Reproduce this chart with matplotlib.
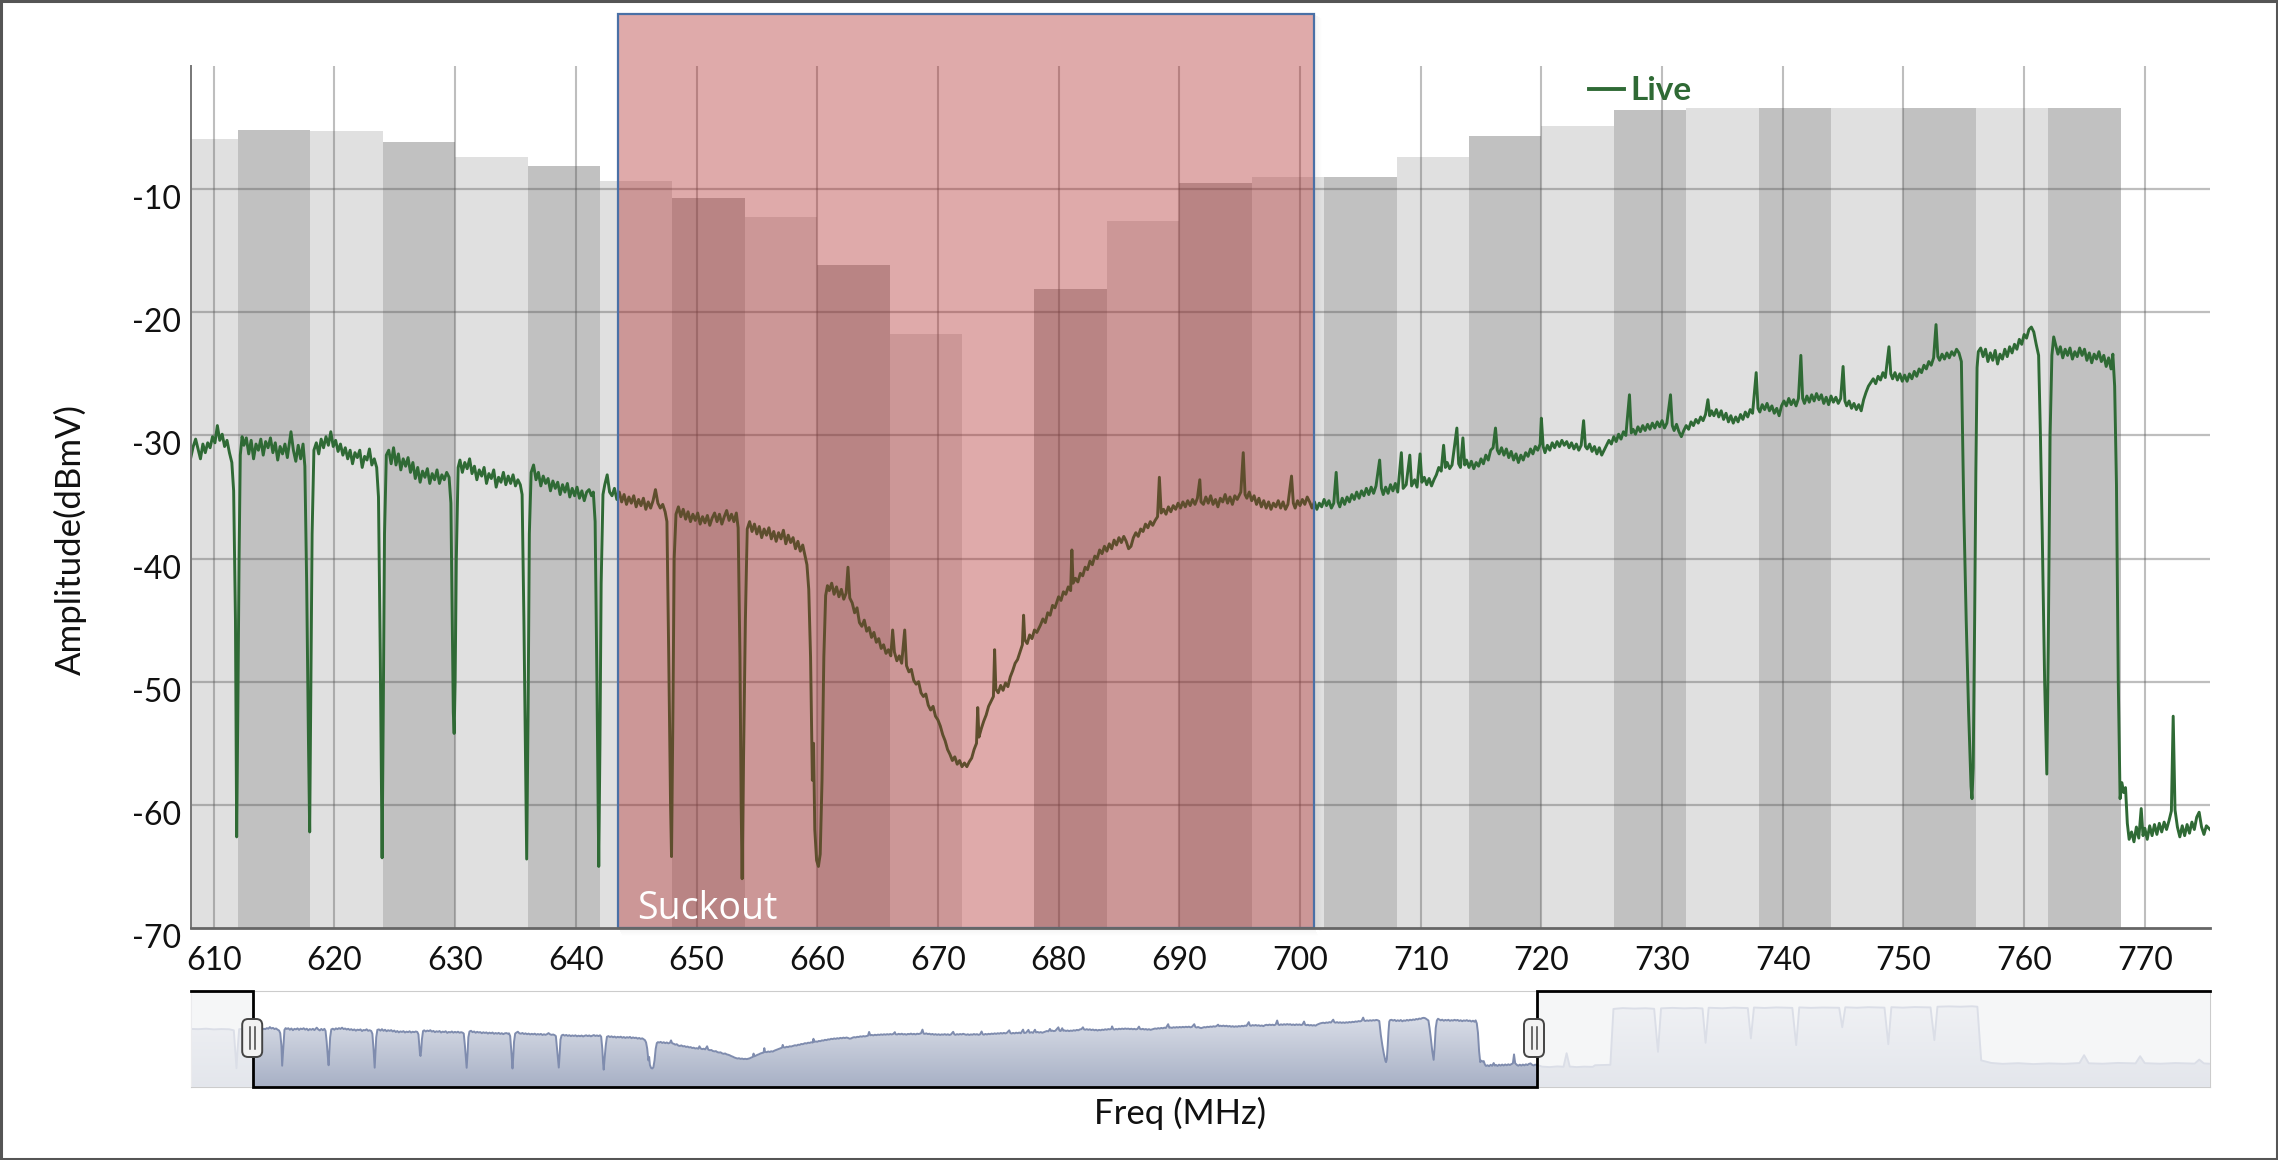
import numpy as np
import matplotlib
matplotlib.use("Agg")
import matplotlib.pyplot as plt
from matplotlib.patches import Rectangle, FancyBboxPatch
from matplotlib.lines import Line2D
from matplotlib.colors import LinearSegmentedColormap
import matplotlib.transforms as mtransforms

# ---------------- data ----------------
channel_starts = [606, 612, 618, 624, 630, 636, 642, 648, 654, 660, 666, 672, 678,
                  684, 690, 696, 702, 708, 714, 720, 726, 732, 738, 744, 750, 756, 762]
channel_levels = [-5.9, -5.2, -5.3, -6.2, -7.4, -8.1, -9.3, -10.7, -12.3, -16.2, -21.8, None, -18.1,
                  -12.6, -9.5, -9.0, -9.0, -7.4, -5.7, -4.9, -3.6, -3.4, -3.4, -3.4, -3.4, -3.4, -3.4]
channel_width = 6

x_ticks = [610, 620, 630, 640, 650, 660, 670, 680, 690, 700, 710, 720, 730, 740, 750, 760, 770]
y_ticks = [-70, -60, -50, -40, -30, -20, -10]

suckout_range = (643.5, 701.2)
suckout_label = "Suckout"
series_name = "Live"

trace_points = [
    (608.1,-31.8),(608.3,-30.9),(608.5,-30.3),(608.7,-31.1),(608.9,-31.9),(609.1,-30.7),(609.3,-31.4),(609.5,-30.6),
    (609.7,-31.0),(609.9,-30.1),(610.1,-30.6),(610.3,-29.2),(610.5,-30.4),(610.7,-29.9),(610.9,-30.9),(611.1,-30.4),
    (611.3,-31.4),(611.5,-32.2),(611.65,-34.5),(611.8,-45.0),(611.9,-62.6),(612.0,-52.0),(612.1,-40.0),(612.2,-31.6),
    (612.35,-30.1),
    (612.5,-30.8),(612.7,-30.2),(612.9,-31.5),(613.1,-30.4),(613.3,-31.9),(613.5,-30.7),(613.7,-31.2),(613.9,-30.3),
    (614.1,-31.6),(614.3,-30.5),(614.5,-31.0),(614.7,-30.2),(614.9,-31.4),(615.1,-30.6),(615.3,-32.0),(615.5,-30.9),
    (615.7,-31.5),(615.9,-30.7),(616.1,-31.8),(616.4,-29.7),(616.6,-31.2),(616.8,-32.1),(617.0,-30.8),(617.2,-31.9),
    (617.4,-30.7),(617.55,-32.5),(617.7,-42.0),(617.85,-55.0),(617.95,-62.2),(618.05,-50.0),(618.15,-38.0),(618.3,-31.2),
    (618.5,-30.6),(618.7,-31.5),(618.9,-30.3),(619.1,-31.0),(619.3,-30.1),(619.5,-30.8),(619.7,-29.7),(619.9,-30.9),
    (620.1,-30.4),(620.3,-31.3),(620.5,-30.7),(620.7,-31.6),(620.9,-31.0),(621.1,-31.9),(621.3,-31.2),(621.5,-32.3),
    (621.7,-31.4),(621.9,-31.8),(622.1,-31.2),(622.3,-32.6),(622.5,-31.7),(622.7,-32.0),(622.9,-31.1),(623.1,-32.4),
    (623.3,-31.9),(623.5,-32.6),(623.65,-35.0),(623.8,-48.0),(623.95,-64.3),(624.05,-52.0),(624.15,-38.0),(624.3,-31.6),
    (624.5,-31.2),(624.7,-32.3),(624.9,-31.0),(625.1,-32.4),(625.3,-31.5),(625.5,-32.8),(625.7,-31.9),(625.9,-32.5),
    (626.1,-31.8),(626.3,-33.0),(626.5,-32.2),(626.7,-33.5),(626.9,-32.6),(627.1,-33.8),(627.3,-32.9),(627.5,-33.4),
    (627.7,-32.7),(627.9,-33.9),(628.1,-33.1),(628.3,-33.6),(628.5,-32.8),(628.7,-33.9),(628.9,-33.2),(629.1,-33.6),
    (629.3,-33.0),(629.5,-33.4),(629.65,-35.5),(629.75,-44.0),(629.85,-52.5),(629.92,-54.2),(630.0,-50.0),(630.1,-40.0),
    (630.25,-32.6),
    (630.4,-32.0),(630.6,-33.0),(630.8,-32.2),(631.0,-32.7),(631.2,-31.9),(631.4,-33.1),(631.6,-32.5),(631.8,-33.6),
    (632.0,-32.8),(632.2,-33.3),(632.4,-32.6),(632.6,-33.9),(632.8,-33.1),(633.0,-33.5),(633.2,-32.8),(633.4,-34.2),
    (633.6,-33.4),(633.8,-33.8),(634.0,-33.0),(634.2,-34.0),(634.4,-33.3),(634.6,-33.9),(634.8,-33.2),(635.0,-34.1),
    (635.2,-33.6),(635.4,-34.0),(635.55,-34.8),(635.7,-45.0),(635.85,-58.0),(635.93,-64.4),(636.05,-52.0),(636.15,-38.0),
    (636.3,-33.0),
    (636.5,-32.4),(636.7,-33.6),(636.9,-33.0),(637.1,-34.1),(637.3,-33.3),(637.5,-33.9),(637.7,-33.5),(637.9,-34.5),
    (638.1,-33.7),(638.3,-34.3),(638.5,-33.8),(638.7,-34.8),(638.9,-34.0),(639.1,-34.6),(639.3,-33.9),(639.5,-35.0),
    (639.7,-34.3),(639.9,-34.9),(640.1,-34.2),(640.3,-35.1),(640.5,-34.5),(640.7,-35.3),(640.9,-34.6),(641.1,-34.4),
    (641.3,-34.9),(641.45,-34.6),(641.6,-37.0),(641.75,-50.0),(641.9,-65.0),(642.0,-55.0),(642.1,-42.0),(642.25,-34.8),
    (642.4,-34.0),(642.6,-33.2),(642.8,-34.6),(643.0,-34.9),(643.2,-34.3),(643.4,-35.2),(643.6,-34.6),(643.8,-35.4),
    (644.0,-34.8),(644.2,-35.6),(644.4,-35.0),(644.6,-35.5),(644.8,-34.9),(645.0,-35.8),(645.2,-35.2),(645.4,-35.7),
    (645.6,-35.1),(645.8,-36.0),(646.0,-35.4),(646.2,-35.9),(646.4,-35.3),(646.6,-34.4),(646.8,-35.5),(647.0,-35.9),
    (647.2,-35.6),(647.4,-36.2),(647.55,-37.0),(647.7,-48.0),(647.85,-60.0),(647.93,-64.2),(648.05,-52.0),(648.15,-40.0),
    (648.3,-36.4),
    (648.5,-35.8),(648.7,-36.6),(648.9,-36.0),(649.1,-36.8),(649.3,-36.2),(649.5,-37.0),(649.7,-36.4),(649.9,-36.9),
    (650.1,-36.3),(650.3,-37.2),(650.5,-36.6),(650.7,-37.1),(650.9,-36.5),(651.1,-37.3),(651.3,-36.7),(651.5,-36.3),
    (651.7,-37.0),(651.9,-36.4),(652.1,-37.2),(652.3,-36.6),(652.5,-36.1),(652.7,-36.9),(652.9,-36.4),(653.1,-37.0),
    (653.3,-36.3),(653.45,-37.5),(653.6,-48.0),(653.7,-60.0),(653.78,-66.0),(653.9,-56.0),(654.05,-45.0),(654.2,-37.6),
    (654.4,-37.0),(654.6,-37.8),(654.8,-37.2),(655.0,-38.0),(655.2,-37.4),(655.4,-38.3),(655.6,-37.6),(655.8,-38.1),
    (656.0,-37.5),(656.2,-38.4),(656.4,-37.8),(656.6,-38.6),(656.8,-37.9),(657.0,-38.4),(657.2,-37.7),(657.4,-38.8),
    (657.6,-38.1),(657.8,-38.7),(658.0,-38.3),(658.2,-39.2),(658.4,-38.6),(658.6,-39.4),(658.8,-38.9),(659.0,-39.8),
    (659.15,-40.5),(659.3,-42.5),(659.45,-48.0),(659.6,-58.0),(659.7,-55.0),(659.8,-62.0),(659.95,-64.5),(660.1,-65.0),
    (660.25,-64.0),(660.4,-58.0),(660.55,-48.0),(660.7,-43.0),(660.85,-42.2),
    (661.0,-42.6),(661.2,-42.0),(661.4,-42.9),(661.6,-42.3),(661.8,-43.1),(662.0,-42.5),(662.2,-43.3),(662.4,-42.8),
    (662.55,-40.7),(662.7,-43.2),(662.9,-43.6),(663.1,-44.4),(663.3,-44.0),(663.5,-45.2),(663.7,-45.5),(663.9,-45.0),
    (664.1,-45.9),(664.3,-45.6),(664.5,-46.4),(664.7,-46.0),(664.9,-46.8),(665.1,-46.5),(665.3,-47.3),(665.5,-47.0),
    (665.7,-47.7),(665.9,-47.4),(666.1,-47.9),(666.25,-45.8),(666.4,-47.6),(666.6,-48.3),(666.8,-47.9),(667.0,-48.5),
    (667.25,-45.8),(667.4,-48.7),(667.6,-49.2),(667.8,-49.0),(668.0,-49.9),(668.2,-50.2),(668.4,-50.0),(668.6,-50.9),
    (668.8,-51.2),(669.0,-51.0),(669.2,-51.9),(669.4,-52.3),(669.6,-52.0),(669.8,-52.8),(670.0,-53.1),(670.2,-53.6),
    (670.4,-54.3),(670.6,-54.8),(670.8,-55.5),(671.0,-55.9),(671.2,-56.4),(671.4,-56.1),(671.6,-56.7),(671.8,-56.4),
    (672.0,-56.9),(672.2,-56.6),(672.4,-56.9),(672.6,-56.5),(672.8,-56.2),(673.0,-55.5),(673.2,-55.0),(673.3,-52.1),
    (673.4,-54.5),(673.6,-53.8),(673.8,-53.2),(674.0,-52.7),(674.2,-52.0),(674.4,-51.6),(674.6,-51.2),(674.7,-47.4),
    (674.8,-50.6),(675.0,-50.9),(675.2,-50.3),(675.4,-50.7),(675.6,-50.1),(675.8,-50.4),(676.0,-49.6),(676.2,-49.1),
    (676.4,-48.5),(676.6,-48.2),(676.8,-47.6),(677.0,-47.0),(677.1,-44.6),(677.2,-46.6),(677.4,-46.9),(677.6,-46.2),
    (677.8,-46.5),(678.0,-45.8),(678.2,-46.0),(678.5,-45.4),(678.7,-44.9),(678.9,-45.2),(679.1,-44.4),(679.3,-44.6),
    (679.5,-43.8),(679.7,-44.0),(680.0,-43.1),(680.2,-43.4),(680.4,-42.7),(680.6,-42.9),(680.8,-42.3),(681.0,-42.6),
    (681.1,-39.3),(681.2,-42.0),(681.4,-41.6),(681.6,-41.9),(681.8,-41.2),(682.0,-41.4),(682.2,-40.7),(682.4,-40.9),
    (682.6,-40.2),(682.8,-40.5),(683.0,-39.8),(683.2,-40.0),(683.4,-39.3),(683.6,-39.6),(683.8,-39.0),(684.0,-39.4),
    (684.2,-38.8),(684.4,-39.2),(684.6,-38.5),(684.8,-38.9),(685.0,-38.3),(685.2,-38.7),(685.4,-38.2),(685.6,-38.6),
    (685.8,-39.2),(686.0,-39.0),(686.2,-38.3),(686.4,-37.9),(686.6,-38.2),(686.8,-37.6),(687.0,-37.8),(687.2,-37.2),
    (687.4,-37.5),(687.6,-37.0),(687.8,-37.3),(688.0,-36.9),(688.2,-36.6),(688.35,-33.4),(688.5,-36.3),(688.7,-36.0),
    (688.9,-36.4),(689.1,-35.8),(689.3,-36.2),(689.5,-35.7),(689.7,-36.0),(689.9,-35.5),(690.1,-35.9),(690.3,-35.4),
    (690.5,-35.8),(690.7,-35.3),(690.9,-35.7),(691.1,-35.2),(691.3,-35.6),(691.5,-35.1),(691.7,-33.6),(691.8,-35.4),
    (692.0,-35.6),(692.2,-35.0),(692.4,-35.5),(692.6,-34.9),(692.8,-35.6),(693.0,-35.2),(693.2,-35.8),(693.4,-35.1),
    (693.6,-35.4),(693.8,-34.8),(694.0,-35.5),(694.2,-35.0),(694.4,-35.6),(694.6,-34.9),(694.8,-35.2),(695.1,-34.6),
    (695.3,-31.4),(695.45,-34.8),(695.6,-35.1),(695.8,-34.6),(696.0,-35.3),(696.2,-34.9),(696.4,-35.6),(696.6,-35.1),
    (696.8,-35.8),(697.0,-35.3),(697.2,-35.9),(697.4,-35.4),(697.6,-36.0),(697.8,-35.5),(698.0,-35.8),(698.2,-35.3),
    (698.4,-35.9),(698.6,-35.4),(698.8,-36.0),(699.0,-35.6),(699.3,-33.3),(699.45,-35.5),(699.6,-35.9),(699.8,-35.3),
    (700.0,-35.7),(700.2,-35.2),(700.4,-35.6),(700.6,-35.0),(700.8,-35.4),(701.0,-35.9),(701.2,-35.4),(701.4,-36.0),
    (701.6,-35.5),(701.8,-35.8),(702.0,-35.2),(702.2,-35.7),(702.4,-35.3),(702.6,-35.9),(702.8,-35.5),(703.0,-33.0),
    (703.15,-35.4),(703.3,-35.8),(703.5,-35.1),(703.7,-35.6),(703.9,-35.0),(704.1,-35.4),(704.3,-34.8),(704.5,-35.2),
    (704.7,-34.6),(704.9,-35.1),(705.1,-34.5),(705.3,-34.9),(705.5,-34.3),(705.7,-34.8),(705.9,-34.2),(706.1,-34.7),
    (706.3,-34.1),(706.6,-32.0),(706.75,-34.3),(706.9,-34.8),(707.1,-34.2),(707.3,-34.7),(707.5,-34.0),(707.7,-34.5),
    (707.9,-33.9),(708.1,-34.6),(708.4,-31.4),(708.55,-34.3),(708.8,-34.0),(709.1,-31.6),(709.25,-34.1),(709.5,-33.6),
    (709.7,-34.2),(709.95,-31.5),(710.1,-33.8),(710.3,-33.4),(710.5,-34.0),(710.7,-33.5),(710.9,-34.1),(711.1,-33.6),
    (711.3,-33.2),(711.5,-32.6),(711.7,-32.9),(711.9,-30.8),(712.05,-32.6),(712.2,-32.2),(712.4,-32.7),(712.6,-32.4),
    (713.0,-29.4),(713.15,-32.3),(713.3,-32.6),(713.5,-30.2),(713.65,-32.4),(713.8,-32.0),
    (714.0,-32.6),(714.2,-32.1),(714.4,-32.7),(714.6,-32.2),(714.8,-32.5),(715.0,-31.9),(715.2,-32.3),(715.4,-31.6),
    (715.6,-32.0),(715.8,-31.2),(716.0,-31.0),(716.2,-29.4),(716.35,-31.2),(716.5,-31.5),(716.7,-31.0),(716.9,-31.6),
    (717.1,-31.1),(717.3,-31.8),(717.5,-31.3),(717.7,-32.0),(717.9,-31.5),(718.1,-32.2),(718.3,-31.6),(718.5,-32.0),
    (718.7,-31.4),(718.9,-31.7),(719.1,-31.1),(719.3,-31.5),(719.5,-30.9),(719.7,-31.2),(719.9,-30.7),(720.0,-28.6),
    (720.15,-30.9),(720.3,-31.4),(720.5,-30.8),(720.7,-31.2),(720.9,-30.6),(721.1,-31.0),(721.3,-30.5),(721.5,-30.9),
    (721.7,-30.4),(721.9,-30.8),(722.1,-30.5),(722.3,-31.0),(722.5,-30.6),(722.7,-31.1),(722.9,-30.7),(723.1,-31.2),
    (723.3,-30.8),(723.5,-28.8),(723.65,-30.9),(723.8,-31.1),(724.0,-30.7),(724.2,-31.3),(724.4,-30.9),(724.6,-31.5),
    (724.8,-31.0),(725.0,-31.6),(725.2,-31.2),(725.4,-30.8),(725.6,-30.4),(725.8,-30.7),(726.0,-30.1),(726.2,-30.5),
    (726.4,-29.9),(726.6,-30.3),(726.8,-29.7),(727.0,-30.0),(727.3,-26.7),(727.45,-29.8),(727.6,-29.5),(727.8,-29.9),
    (728.0,-29.3),(728.2,-29.7),(728.4,-29.2),(728.6,-29.6),(728.8,-29.1),(729.0,-29.5),(729.2,-29.0),(729.4,-29.4),
    (729.6,-28.9),(729.8,-29.3),(730.0,-28.8),(730.2,-29.4),(730.4,-29.0),(730.7,-26.7),(730.85,-29.2),(731.0,-29.6),
    (731.2,-29.1),(731.4,-29.7),(731.6,-30.1),(731.8,-29.6),(732.0,-29.2),(732.2,-29.5),(732.4,-28.9),(732.6,-29.2),
    (732.8,-28.7),(733.0,-29.0),(733.2,-28.5),(733.4,-28.8),(733.6,-28.3),(733.8,-27.1),(733.95,-28.4),(734.1,-28.0),
    (734.3,-28.4),
    (734.5,-27.9),(734.7,-28.5),(734.9,-28.0),(735.1,-28.7),(735.3,-28.2),(735.5,-28.9),(735.7,-28.4),(735.9,-29.0),
    (736.1,-28.5),(736.3,-28.9),(736.5,-28.3),(736.7,-28.7),(736.9,-28.1),(737.1,-28.5),(737.3,-27.9),(737.5,-28.2),
    (737.8,-24.9),(737.95,-27.8),(738.1,-28.1),(738.3,-27.5),(738.5,-27.9),(738.7,-27.4),(738.9,-28.0),(739.1,-27.6),
    (739.3,-28.2),(739.5,-27.8),(739.7,-28.4),(739.9,-27.6),(740.1,-27.2),(740.3,-27.6),(740.5,-27.0),(740.7,-27.5),
    (740.9,-27.1),(741.1,-27.6),(741.3,-27.0),(741.5,-23.5),(741.65,-27.0),(741.8,-27.4),(742.0,-26.8),(742.2,-27.3),
    (742.4,-26.7),(742.6,-27.2),(742.8,-26.6),(743.0,-27.1),(743.2,-26.7),(743.4,-27.4),(743.6,-26.9),(743.8,-27.5),
    (744.0,-26.8),(744.2,-27.3),(744.4,-26.9),(744.6,-27.4),(744.8,-27.0),(745.0,-24.4),(745.15,-27.2),(745.3,-27.6),
    (745.5,-27.2),(745.7,-27.8),(745.9,-27.4),(746.1,-27.9),(746.3,-27.5),(746.5,-28.0),(746.7,-27.1),(746.9,-26.5),
    (747.1,-26.0),(747.3,-25.7),(747.5,-25.4),(747.7,-25.8),(747.9,-25.2),(748.1,-25.5),(748.3,-24.9),(748.5,-25.3),
    (748.8,-22.8),(748.95,-25.0),(749.1,-25.4),(749.3,-24.9),(749.5,-25.5),(749.7,-25.0),(749.9,-25.6),(750.1,-25.1),
    (750.3,-25.6),(750.5,-25.0),(750.7,-25.4),(750.9,-24.8),(751.1,-25.2),(751.3,-24.6),(751.5,-24.9),(751.7,-24.3),
    (751.9,-24.6),(752.1,-24.0),(752.3,-24.3),(752.5,-23.7),(752.7,-21.0),(752.85,-23.6),(753.0,-23.9),(753.2,-23.4),
    (753.4,-23.8),(753.6,-23.3),(753.8,-23.7),(754.0,-23.2),(754.2,-23.5),(754.4,-23.0),(754.6,-23.3),(754.8,-24.0),
    (755.0,-36.0),(755.2,-45.0),(755.4,-52.5),(755.6,-58.5),(755.68,-59.5),(755.78,-57.0),(755.9,-45.0),(756.0,-33.0),
    (756.1,-24.5),(756.2,-23.2),
    (756.4,-22.9),(756.6,-23.6),(756.8,-23.0),(757.0,-24.0),(757.2,-23.3),(757.4,-23.9),(757.6,-23.1),(757.8,-24.2),
    (758.0,-23.4),(758.2,-23.8),(758.4,-23.0),(758.6,-23.6),(758.8,-22.8),(759.0,-23.3),(759.2,-22.6),(759.4,-23.0),
    (759.6,-22.2),(759.8,-22.6),(760.0,-21.8),(760.2,-22.1),(760.4,-21.4),(760.6,-21.2),(760.8,-21.6),(761.0,-22.6),
    (761.2,-23.5),(761.35,-30.0),(761.5,-38.0),(761.7,-50.0),(761.88,-57.5),(762.0,-47.0),(762.15,-30.0),(762.3,-23.5),
    (762.45,-22.0),(762.6,-22.6),(762.8,-23.4),(763.0,-22.8),(763.2,-23.7),(763.4,-23.0),(763.6,-23.5),(763.8,-22.9),
    (764.0,-23.8),(764.2,-23.2),(764.4,-23.6),(764.6,-22.9),(764.8,-23.5),(765.0,-23.0),(765.2,-23.9),(765.4,-23.3),
    (765.6,-24.1),(765.8,-23.4),(766.0,-23.8),(766.2,-23.2),(766.4,-24.0),(766.6,-23.5),(766.8,-24.4),(767.0,-23.7),
    (767.2,-24.6),(767.35,-23.4),(767.5,-26.0),(767.65,-34.0),(767.8,-50.0),(767.95,-59.5),(768.1,-58.2),(768.25,-59.0),
    (768.4,-58.6),(768.55,-61.5),(768.7,-62.8),
    (768.9,-62.2),(769.1,-63.0),(769.3,-61.8),(769.5,-62.7),(769.7,-60.3),(769.85,-62.5),(770.0,-61.9),(770.2,-62.8),
    (770.4,-61.7),(770.6,-62.5),(770.8,-61.6),(771.0,-62.4),(771.2,-61.5),(771.4,-62.2),(771.6,-61.4),(771.8,-62.0),
    (772.0,-61.3),(772.2,-60.5),(772.35,-52.8),(772.5,-60.4),(772.7,-61.8),(772.9,-62.6),(773.1,-61.7),(773.3,-62.5),
    (773.5,-61.6),(773.7,-62.3),(773.9,-61.4),(774.1,-62.0),(774.3,-61.0),(774.5,-60.6),(774.7,-61.8),(774.9,-62.4),
    (775.1,-61.7),(775.4,-62.0),
]

# navigator-only parts of the series (outside the zoomed window)
nav_left_points = [
    (600.0,-30.8),(601.0,-31.0),(602.0,-30.6),(603.0,-31.2),(604.0,-30.9),(605.0,-31.1),(605.6,-32.0),
    (605.8,-50.0),(605.95,-64.8),(606.1,-48.0),(606.3,-31.0),(607.0,-30.7),(608.0,-31.5),
]
nav_right_points = [
    (776.0,-63.4),(777.0,-63.8),(778.0,-63.2),(778.8,-63.5),(779.2,-51.8),(779.6,-63.3),(780.5,-63.8),(781.5,-63.4),
    (782.6,-63.6),(782.9,-62.2),(784.0,-62.0),(784.9,-61.8),(785.3,-13.5),(786.5,-12.8),(788.0,-13.2),(789.5,-12.9),
    (790.6,-13.4),(791.1,-50.6),(791.5,-13.0),(793.0,-12.6),(794.5,-13.0),(796.0,-12.7),(796.9,-13.1),(797.3,-42.8),
    (797.7,-12.5),(799.5,-12.9),(801.0,-12.4),(802.8,-12.8),(803.2,-39.0),(803.6,-12.3),(805.0,-12.7),(806.5,-12.2),
    (808.6,-12.6),(809.1,-44.8),(809.5,-12.2),(811.0,-12.6),(812.5,-12.3),(814.7,-12.5),(815.1,-29.4),(815.5,-12.1),
    (817.0,-12.5),(818.5,-12.0),(820.6,-12.4),(821.1,-44.0),(821.5,-12.0),(823.0,-12.4),(824.5,-11.9),(826.6,-12.2),
    (827.1,-40.5),(827.5,-11.6),(829.0,-11.3),(830.5,-11.6),(832.0,-11.2),(832.7,-11.6),(833.2,-58.0),(834.5,-60.2),
    (836.0,-61.0),(838.0,-60.4),(840.0,-61.2),(842.0,-60.6),(844.0,-61.0),(846.0,-60.3),(846.6,-53.5),(847.2,-60.5),
    (849.0,-60.9),(851.0,-60.2),(853.3,-60.6),(853.9,-54.4),(854.5,-60.4),(856.5,-60.9),(858.5,-60.3),(861.0,-60.8),
    (861.6,-57.3),(862.2,-60.6),(863.0,-60.9),
]

# ---------------- layout ----------------
W, H, DPI = 2278, 1160, 100
X0, X1 = 608.1, 775.4
NAV_X0, NAV_X1 = 600.0, 863.0
NAV_Y0, NAV_Y1 = -81.0, 2.0

GREEN = "#2f6a35"
FONT = ["Lato", "DejaVu Sans"]
plt.rcParams["font.family"] = FONT

fig = plt.figure(figsize=(W / DPI, H / DPI), dpi=DPI)
fig.patch.set_facecolor("white")

def fx(px):
    return px / W

def fy(py):
    return 1 - py / H

L, R, T, B = 190.8, 2210.0, 66.0, 928.0
ax = fig.add_axes([fx(L), fy(B), (R - L) / W, (B - T) / H])
ax.set_xlim(X0, X1)
ax.set_ylim(-70, 0)
ax.set_facecolor("white")

# channel bars
drawn = [(s, v) for s, v in zip(channel_starts, channel_levels) if v is not None]
bar_x = [s for s, _ in drawn]
bar_h = [v - (-70) for _, v in drawn]
bar_c = ["#e0e0e0" if i % 2 == 0 else "#c1c1c1" for i in range(len(drawn))]
ax.bar(bar_x, bar_h, width=channel_width, bottom=-70, align="edge", color=bar_c,
       linewidth=0, zorder=1)

# grid
ax.vlines(x_ticks, -70, 0, colors="#555555", alpha=0.38, linewidth=1.5, zorder=2)
ax.hlines([t for t in y_ticks if t > -70], X0, X1, colors="#555555", alpha=0.38,
          linewidth=1.6, zorder=2)

# trace
tf = [p[0] for p in trace_points]
ta = [p[1] for p in trace_points]
ax.plot(tf, ta, color=GREEN, linewidth=2.1, zorder=3, solid_joinstyle="round")

# suckout box with a soft shadow outside its bottom/right edges
s0, s1 = suckout_range
top_val = 4.2
box_h = top_val + 70
for k in range(1, 9):
    a = 0.05 * (1 - k / 9)
    # bottom strip (k px below the box)
    trb = mtransforms.offset_copy(ax.transData, fig=fig, x=k * 0.5, y=-k, units="dots")
    ax.add_patch(Rectangle((s0, -70), s1 - s0, 0.08, transform=trb, facecolor="black",
                           edgecolor="none", alpha=a, clip_on=False, zorder=3.5))
    # right strip
    trr = mtransforms.offset_copy(ax.transData, fig=fig, x=k, y=-k * 0.5, units="dots")
    ax.add_patch(Rectangle((s1 - 0.08, -70), 0.08, box_h, transform=trr, facecolor="black",
                           edgecolor="none", alpha=a, clip_on=False, zorder=3.5))
ax.add_patch(Rectangle((s0, -70), s1 - s0, box_h, facecolor="#ac2121",
                       alpha=0.38, edgecolor="none", clip_on=False, zorder=4))
ax.add_patch(Rectangle((s0, -70), s1 - s0, box_h, facecolor="none",
                       edgecolor="#4a70a6", linewidth=1.6, clip_on=False, zorder=4.5))
ax.text(645.1, -69.3, suckout_label, color="white", fontsize=27,
        family=["Open Sans", "DejaVu Sans"], ha="left", va="baseline", zorder=5)

# axes styling
for sp in ["top", "right"]:
    ax.spines[sp].set_visible(False)
ax.spines["left"].set_color("#777777")
ax.spines["left"].set_linewidth(1.4)
ax.spines["bottom"].set_color("#666666")
ax.spines["bottom"].set_linewidth(2.0)
ax.spines["left"].set_zorder(6)
ax.spines["bottom"].set_zorder(6)
ax.set_xticks(x_ticks)
ax.set_yticks(y_ticks)
ax.set_xticklabels([str(t) for t in x_ticks])
ax.set_yticklabels([str(t) for t in y_ticks])
ax.tick_params(axis="both", length=0, labelsize=23, labelcolor="#111111")
ax.tick_params(axis="x", pad=13)
ax.tick_params(axis="y", pad=7)
shift = mtransforms.ScaledTranslation(0, -8 / DPI, fig.dpi_scale_trans)
for lab in ax.get_yticklabels():
    lab.set_transform(lab.get_transform() + shift)

# axis titles
fig.text(fx(70), fy(540), "Amplitude(dBmV)", rotation=90, ha="center", va="center",
         fontsize=25, color="#111111")
fig.text(fx(1180), fy(1113), "Freq (MHz)", ha="center", va="center",
         fontsize=25, color="#111111")

# legend
fig.add_artist(Line2D([1589, 1624], [H - 89, H - 89], color=GREEN, linewidth=2.8,
                      transform=mtransforms.IdentityTransform()))
fig.text(fx(1630), fy(100), series_name, ha="left", va="baseline", fontsize=24,
         fontweight="bold", color=GREEN)

# ---------------- navigator ----------------
NT, NB = 991.0, 1087.0
axn = fig.add_axes([fx(L), fy(NB), (R - L) / W, (NB - NT) / H])
axn.set_xlim(NAV_X0, NAV_X1)
axn.set_ylim(NAV_Y0, NAV_Y1)
axn.set_xticks([])
axn.set_yticks([])
for sp in axn.spines.values():
    sp.set_color("#cccccc")
    sp.set_linewidth(0.8)

nav_pts = nav_left_points + trace_points + nav_right_points
nf = [p[0] for p in nav_pts]
na = [p[1] for p in nav_pts]
poly = axn.fill_between(nf, na, NAV_Y0, color="none", linewidth=0)
cmap = LinearSegmentedColormap.from_list("navfill", ["#a7b0c5", "#eceef4"])
grad = np.linspace(0, 1, 256).reshape(-1, 1)
im = axn.imshow(grad, extent=[NAV_X0, NAV_X1, NAV_Y0, NAV_Y1], origin="lower",
                aspect="auto", cmap=cmap, zorder=1)
im.set_clip_path(poly.get_paths()[0], transform=axn.transData)
axn.plot(nf, na, color="#7f8cae", linewidth=1.4, zorder=2)

# masks outside selection
axn.axvspan(NAV_X0, X0, color="#f3f4f6", alpha=0.8, linewidth=0, zorder=3)
axn.axvspan(X1, NAV_X1, color="#f3f4f6", alpha=0.8, linewidth=0, zorder=3)

# outline
axn.plot([NAV_X0, X0, X0, X1, X1, NAV_X1], [NAV_Y1, NAV_Y1, NAV_Y0, NAV_Y0, NAV_Y1, NAV_Y1],
         color="black", linewidth=2.0, clip_on=False, zorder=6, solid_joinstyle="miter")

# handles
ident = mtransforms.IdentityTransform()
for hx in [252.2, 1534.0]:
    cy = H - 1038
    fig.add_artist(FancyBboxPatch((hx - 10, cy - 19), 20, 38,
                                  boxstyle="round,pad=0,rounding_size=6",
                                  facecolor="#f2f2f2", edgecolor="#444444",
                                  linewidth=1.4, transform=ident))
    for dx in (-2.5, 2.5):
        fig.add_artist(Line2D([hx + dx, hx + dx], [cy - 11, cy + 11], color="#444444",
                              linewidth=1.1, transform=ident))

# figure border
fig.add_artist(Rectangle((0.0005, 0.001), 0.999, 0.998, transform=fig.transFigure,
                         facecolor="none", edgecolor="#555555", linewidth=2.2))

fig.savefig("out.png", dpi=DPI)
